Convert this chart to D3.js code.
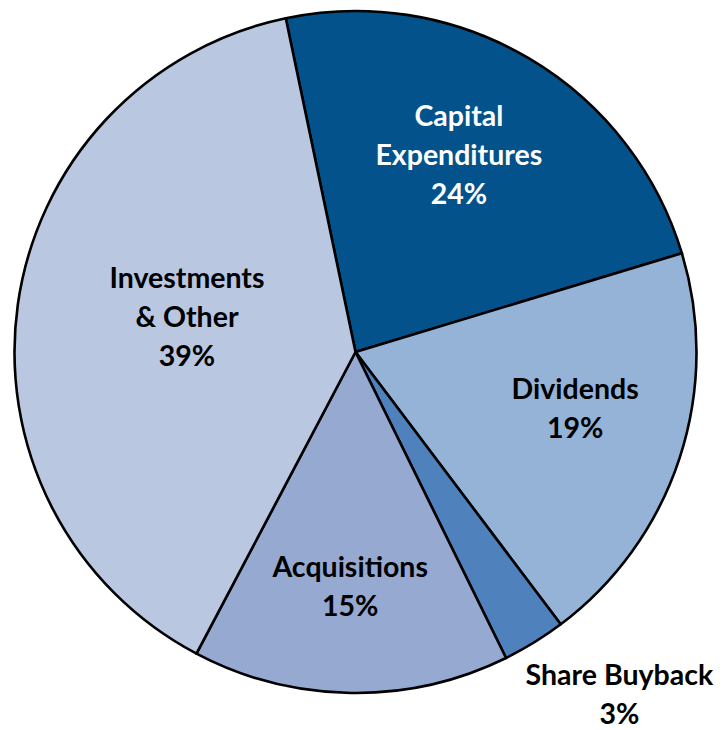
<!DOCTYPE html>
<html>
<head>
<meta charset="utf-8">
<script src="https://cdn.jsdelivr.net/npm/d3@7"></script>
<style>
  html, body { margin: 0; padding: 0; background: #ffffff; }
  svg { display: block; }
</style>
</head>
<body>
<svg id="chart" width="724" height="730"></svg>
<script>
// ---- data ----
const categories = ["Capital Expenditures", "Dividends", "Share Buyback", "Acquisitions", "Investments & Other"];
const shares = [23.6, 19.4, 3.0, 15.0, 39.0];
const labelLines = [["Capital", "Expenditures"], ["Dividends"], ["Share Buyback"], ["Acquisitions"], ["Investments", "& Other"]];
const sliceColors = ["#03528C", "#95B3D7", "#4F81BD", "#95A9D1", "#B9C7E1"];
const labelColors = ["#ffffff", "#000000", "#000000", "#000000", "#000000"];

// ---- layout ----
const W = 724, H = 730;
const cx = 355.5, cy = 352, R = 341;
const startAngle = -11.8 * Math.PI / 180;
// label anchor: [angle offset in degrees from slice middle, radial distance]
const labelPolar = [[-3.0, 222.5], [-3.7, 226.7], [-6.0, 432.5], [0.5, 234.6], [3.7, 172.1]];
const lineH = 39;
const fontSize = 28.5;

const data = categories.map((c, i) => ({ cat: c, value: shares[i], idx: i }));

const svg = d3.select("#chart");
const g = svg.append("g").attr("transform", `translate(${cx},${cy})`);

const pie = d3.pie().sort(null).value(d => d.value)
  .startAngle(startAngle).endAngle(startAngle + 2 * Math.PI);
const arcs = pie(data);
const arc = d3.arc().innerRadius(0).outerRadius(R);

g.selectAll("path.slice").data(arcs).enter().append("path")
  .attr("class", "slice")
  .attr("d", arc)
  .attr("fill", d => sliceColors[d.data.idx])
  .attr("stroke", "#000")
  .attr("stroke-width", 2.6)
  .attr("stroke-linejoin", "round");

g.selectAll("text.lbl").data(arcs).enter().append("text")
  .attr("class", "lbl")
  .attr("text-anchor", "middle")
  .attr("font-family", "Lato, 'Open Sans', sans-serif")
  .attr("font-weight", 700)
  .attr("font-size", fontSize)
  .attr("fill", d => labelColors[d.data.idx])
  .each(function (d) {
    const i = d.data.idx;
    const mid = (d.startAngle + d.endAngle) / 2 + labelPolar[i][0] * Math.PI / 180;
    const dist = labelPolar[i][1];
    const x = Math.sin(mid) * dist;
    const y = -Math.cos(mid) * dist;
    const lines = labelLines[i].concat([Math.round(d.data.value) + "%"]);
    const n = lines.length;
    const top = y - (n - 1) * lineH / 2 + fontSize * 0.35;
    const t = d3.select(this);
    lines.forEach((ln, k) => {
      t.append("tspan").attr("x", x).attr("y", top + k * lineH).text(ln);
    });
  });
</script>
</body>
</html>
